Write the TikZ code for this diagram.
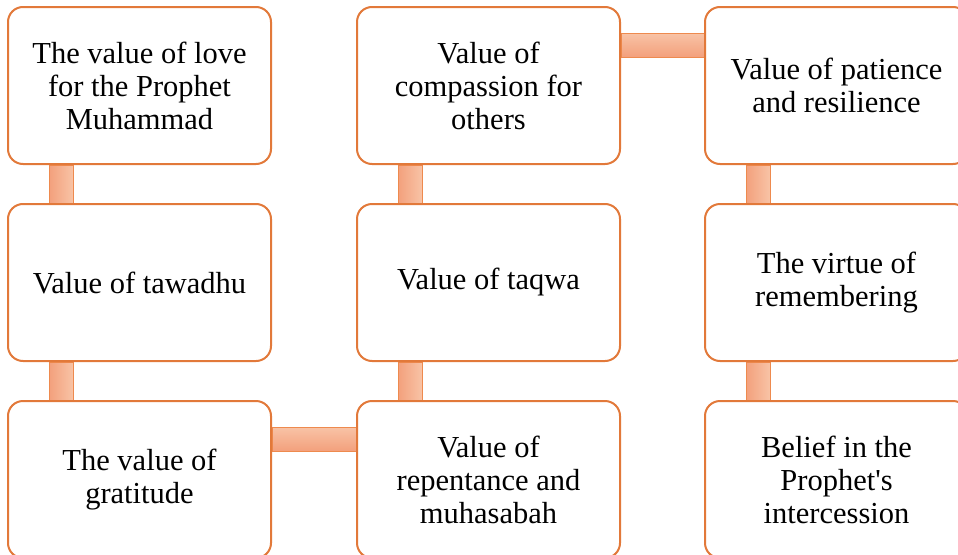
\documentclass[tikz,border=0pt]{standalone}
\usepackage{fontspec}
\setmainfont{Liberation Serif}
\usetikzlibrary{backgrounds}
\definecolor{boxline}{HTML}{E2793A}
\definecolor{linkline}{HTML}{EE8A4E}
\definecolor{linkdark}{HTML}{F3A07C}
\definecolor{linklight}{HTML}{F8C3A6}
\tikzset{
  valuebox/.style={draw=boxline, line width=2pt, fill=white, rounded corners=15pt,
    minimum width=263pt, minimum height=157pt, align=center,
    font=\fontsize{30.5}{33}\selectfont},
  vlink/.style={draw=linkline, line width=1pt, left color=linkdark, right color=linklight},
  hlink/.style={draw=linkline, line width=1pt, top color=linklight, bottom color=linkdark}
}
\begin{document}
\begin{tikzpicture}[x=1pt,y=-1pt]
      \clip (0,0) rectangle (958,554);
      \useasboundingbox (0,0) rectangle (958,554);
      \draw
        (139.5,85.5) node[valuebox] (love){The value of love\\for the Prophet\\Muhammad}
        (139.5,282.5) node[valuebox] (tawadhu){Value of tawadhu}
        (139.5,479.5) node[valuebox] (gratitude){The value of\\gratitude}
        (488.5,85.5) node[valuebox] (compassion){Value of\\compassion for\\others}
        (488.5,282.5) node[valuebox] (taqwa){Value of taqwa}
        (488.5,479.5) node[valuebox] (repentance){Value of\\repentance and\\muhasabah}
        (836.5,85.5) node[valuebox] (patience){Value of patience\\and resilience}
        (836.5,282.5) node[valuebox] (remember){The virtue of\\remembering}
        (836.5,479.5) node[valuebox] (belief){Belief in the\\Prophet\textquotesingle s\\intercession};
      \begin{scope}[on background layer]
        \draw[vlink] ([xshift=42pt]love.south west) rectangle ([xshift=66pt]tawadhu.north west);
        \draw[vlink] ([xshift=42pt]tawadhu.south west) rectangle ([xshift=66pt]gratitude.north west);
        \draw[hlink] ([yshift=-27pt]gratitude.north east) rectangle ([yshift=-51pt]repentance.north west);
        \draw[vlink] ([xshift=42pt]taqwa.south west) rectangle ([xshift=66pt]repentance.north west);
        \draw[vlink] ([xshift=42pt]compassion.south west) rectangle ([xshift=66pt]taqwa.north west);
        \draw[hlink] ([yshift=-27pt]compassion.north east) rectangle ([yshift=-51pt]patience.north west);
        \draw[vlink] ([xshift=42pt]patience.south west) rectangle ([xshift=66pt]remember.north west);
        \draw[vlink] ([xshift=42pt]remember.south west) rectangle ([xshift=66pt]belief.north west);
      \end{scope}
    \end{tikzpicture}
\end{document}
